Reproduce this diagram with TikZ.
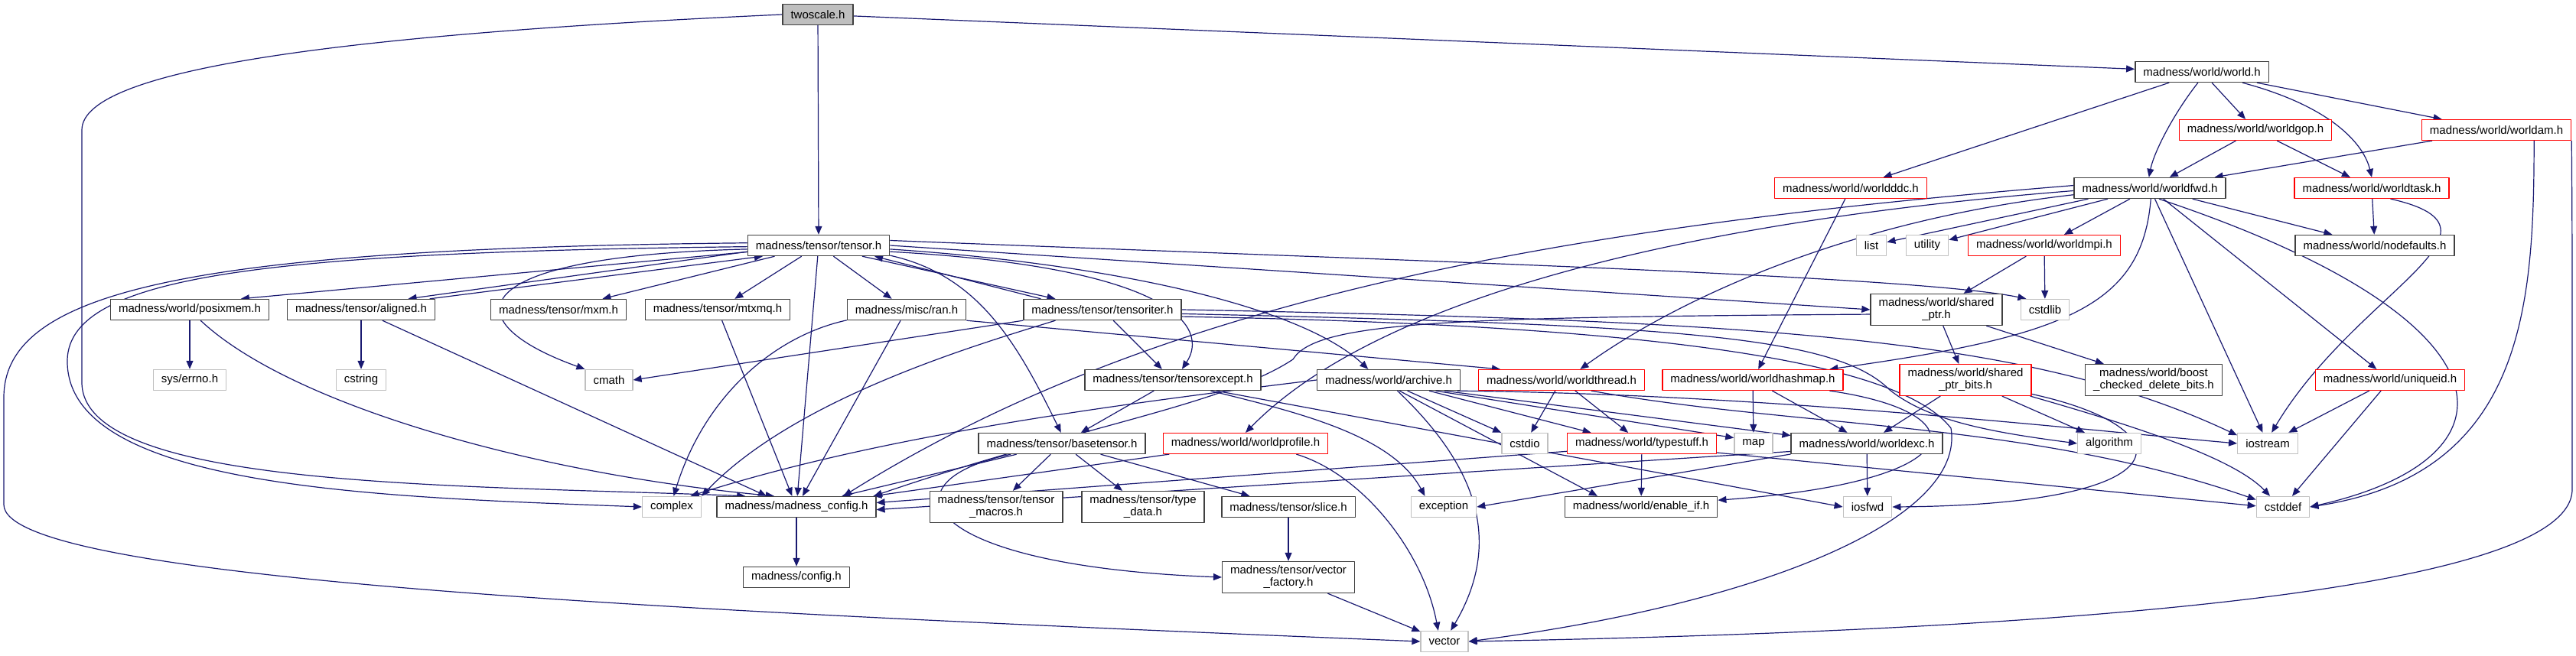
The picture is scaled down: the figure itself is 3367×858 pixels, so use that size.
\documentclass[tikz,border=0pt]{standalone}
\usepackage{fontspec}
\setmainfont{Liberation Sans}
\usetikzlibrary{arrows.meta, backgrounds}
\definecolor{incblue}{HTML}{191970}
\definecolor{hdrframe}{HTML}{404040}
\definecolor{sysframe}{HTML}{C0C0C0}

\begin{document}
\begin{tikzpicture}[
        x=1pt, y=-1pt,
        line cap=round, line join=round,
        hdr/.style={draw=hdrframe, line width=1.4pt, fill=white, inner xsep=10.5pt, inner ysep=5.5pt,
            minimum height=27pt, align=center, font=\fontsize{15}{16}\selectfont},
        redhdr/.style={hdr, draw=red, line width=1.2pt},
        syshdr/.style={hdr, draw=sysframe, line width=1.4pt},
        inc/.style={draw=incblue, line width=1.2pt, -{Triangle[length=11pt, width=9pt]}}
    ]
    \useasboundingbox (0,0) rectangle (3367,858);

    \node[hdr, fill=black!25] (twoscale) at (1069,19) {twoscale.h};
    \node[hdr] (tensor) at (1070,321) {madness/tensor/tensor.h};
    \node[hdr] (world) at (2878,94) {madness/world/world.h};
    \node[redhdr] (worldddc) at (2419,246) {madness/world/worldddc.h};
    \node[redhdr] (worldgop) at (2948,170) {madness/world/worldgop.h};
    \node[redhdr] (worldam) at (3263,170) {madness/world/worldam.h};
    \node[hdr] (worldfwd) at (2810,246) {madness/world/worldfwd.h};
    \node[redhdr] (worldtask) at (3100,246) {madness/world/worldtask.h};
    \node[syshdr] (list) at (2446,321) {list};
    \node[syshdr] (utility) at (2519,321) {utility};
    \node[redhdr] (worldmpi) at (2672,321) {madness/world/worldmpi.h};
    \node[hdr] (nodefaults) at (3104,321) {madness/world/nodefaults.h};
    \node[hdr] (posixmem) at (248,405) {madness/world/posixmem.h};
    \node[hdr] (aligned) at (472,405) {madness/tensor/aligned.h};
    \node[hdr] (mxm) at (730,405) {madness/tensor/mxm.h};
    \node[hdr] (mtxmq) at (938,405) {madness/tensor/mtxmq.h};
    \node[hdr] (ran) at (1185,405) {madness/misc/ran.h};
    \node[hdr] (tensoriter) at (1441,405) {madness/tensor/tensoriter.h};
    \node[hdr] (sharedptr) at (2531,405) {madness/world/shared\\\_ptr.h};
    \node[syshdr] (cstdlib) at (2673,405) {cstdlib};
    \node[syshdr] (errno) at (248,497) {sys/errno.h};
    \node[syshdr] (cstring) at (472,497) {cstring};
    \node[syshdr] (cmath) at (796,497) {cmath};
    \node[hdr] (tensorexcept) at (1533,497) {madness/tensor/tensorexcept.h};
    \node[hdr] (archive) at (1815,497) {madness/world/archive.h};
    \node[redhdr] (worldthread) at (2041,497) {madness/world/worldthread.h};
    \node[redhdr] (worldhashmap) at (2291,497) {madness/world/worldhashmap.h};
    \node[redhdr] (sharedptrbits) at (2569,497) {madness/world/shared\\\_ptr\_bits.h};
    \node[hdr] (boostcdb) at (2815,497) {madness/world/boost\\\_checked\_delete\_bits.h};
    \node[redhdr] (uniqueid) at (3124,497) {madness/world/uniqueid.h};
    \node[hdr] (basetensor) at (1388,580) {madness/tensor/basetensor.h};
    \node[redhdr] (worldprofile) at (1628,580) {madness/world/worldprofile.h};
    \node[syshdr] (cstdio) at (1993,580) {cstdio};
    \node[redhdr] (typestuff) at (2146,580) {madness/world/typestuff.h};
    \node[syshdr] (map) at (2292,580) {map};
    \node[hdr] (worldexc) at (2440,580) {madness/world/worldexc.h};
    \node[syshdr] (algorithm) at (2757,580) {algorithm};
    \node[syshdr] (iostream) at (2964,580) {iostream};
    \node[syshdr] (complex) at (878,663) {complex};
    \node[hdr] (madconfig) at (1041,663) {madness/madness\_config.h};
    \node[hdr] (tensormacros) at (1302,663) {madness/tensor/tensor\\\_macros.h};
    \node[hdr] (typedata) at (1494,663) {madness/tensor/type\\\_data.h};
    \node[hdr] (slice) at (1684,663) {madness/tensor/slice.h};
    \node[syshdr] (exception) at (1887,663) {exception};
    \node[hdr] (enableif) at (2145,663) {madness/world/enable\_if.h};
    \node[syshdr] (iosfwd) at (2441,663) {iosfwd};
    \node[syshdr] (cstddef) at (2984,663) {cstddef};
    \node[hdr] (config) at (1041,755) {madness/config.h};
    \node[hdr] (vectorfactory) at (1684,755) {madness/tensor/vector\\\_factory.h};
    \node[syshdr] (vector) at (1888,839) {vector};

    \begin{scope}[on background layer]
    \draw[inc] (twoscale) -- (tensor);
    \draw[inc] (twoscale) -- (world);
    \draw[inc] (twoscale.west) .. controls (450,45) and (107,90) .. (107,170) -- (107,500)
        .. controls (107,640) and (600,634) .. (madconfig.168);

    \draw[inc] (world) -- (worldddc);
    \draw[inc] (world.250) .. controls (2840,150) and (2815,200) .. (worldfwd.95);
    \draw[inc] (world) -- (worldgop);
    \draw[inc] (world.-15) .. controls (3050,140) and (3090,190) .. (worldtask.north);
    \draw[inc] (world) -- (worldam);
    \draw[inc] (worldgop) -- (worldfwd);
    \draw[inc] (worldgop) -- (worldtask);
    \draw[inc] (worldam) -- (worldfwd);
    \draw[inc] (worldam.-16) .. controls (3312,400) and (3300,620) .. (cstddef.east);
    \draw[inc] (worldam.south east) .. controls (3362,300) .. (3362,640)
        .. controls (3362,800) and (2400,830) .. (vector.east);
    \draw[inc] (worldtask) -- (nodefaults);
    \draw[inc] (worldtask.-30) .. controls (3300,300) and (3080,380) .. (iostream.70);
    \draw[inc] (worldddc) -- (worldhashmap);

    \draw[inc] (worldfwd.190) -- (list);
    \draw[inc] (worldfwd) -- (utility);
    \draw[inc] (worldfwd) -- (worldmpi);
    \draw[inc] (worldfwd) -- (nodefaults);
    \draw[inc] (worldfwd) -- (uniqueid);
    \draw[inc] (worldfwd) -- (iostream);
    \draw[inc] (worldfwd.-85) .. controls (2800,400) and (2700,440) .. (worldhashmap.8);
    \draw[inc] (worldfwd.-50) .. controls (3300,420) and (3300,600) .. (cstddef.east);
    \draw[inc] (worldfwd.185) .. controls (2400,290) and (2180,400) .. (worldthread.30);
    \draw[inc] (worldfwd.182) .. controls (2200,290) and (1800,390) .. (worldprofile.north);
    \draw[inc] (worldfwd.178) .. controls (2000,300) and (1500,400) .. (madconfig.13);
    \draw[inc] (worldmpi) -- (sharedptr);
    \draw[inc] (worldmpi) -- (cstdlib);
    \draw[inc] (uniqueid) -- (iostream);
    \draw[inc] (uniqueid) -- (cstddef);

    \draw[inc] (tensor) -- (posixmem.12);
    \draw[inc] (tensor.185) -- (aligned.13);
    \draw[inc] (aligned.9) -- (tensor.191);
    \draw[inc] (tensor) -- (mxm);
    \draw[inc] (tensor) -- (mtxmq);
    \draw[inc] (tensor) -- (madconfig);
    \draw[inc] (tensor) -- (ran);
    \draw[inc] (tensor.-14) -- (tensoriter.167);
    \draw[inc] (tensoriter.170) -- (tensor.-11);
    \draw[inc] (tensor.-8) .. controls (1280,360) and (1330,450) .. (basetensor.95);
    \draw[inc] (tensor.-5) .. controls (1540,350) and (1580,430) .. (tensorexcept.50);
    \draw[inc] (tensor.-3) .. controls (1450,345) and (1700,400) .. (archive.152);
    \draw[inc] (tensor.4) .. controls (1800,340) and (2500,360) .. (cstdlib.150);
    \draw[inc] (tensor.east) -- (sharedptr.west);
    \draw[inc] (tensor.181) .. controls (350,330) and (92,360) .. (88,470)
        .. controls (84,640) and (500,650) .. (complex.west);
    \draw[inc] (tensor.178) .. controls (250,325) and (5,380) .. (5,520) -- (5,660)
        .. controls (5,760) and (900,800) .. (vector.west);
    \draw[inc] (tensor.183) .. controls (600,335) and (590,420) .. (cmath.north west);

    \draw[inc] (posixmem) -- (errno);
    \draw[inc] (posixmem.-45) .. controls (380,530) and (700,620) .. (madconfig.154);
    \draw[inc] (aligned) -- (cstring);
    \draw[inc] (aligned.-27) -- (madconfig.160);
    \draw[inc] (mtxmq) -- (madconfig);
    \draw[inc] (ran) -- (madconfig);
    \draw[inc] (ran.190) .. controls (1010,440) and (920,520) .. (complex.80);
    \draw[inc] (ran.south east) -- (worldthread.170);

    \draw[inc] (tensoriter) -- (tensorexcept);
    \draw[inc] (tensoriter.south west) -- (cmath.east);
    \draw[inc] (tensoriter.-167) .. controls (1280,450) and (1040,520) .. (complex.north east);
    \draw[inc] (tensoriter.east) .. controls (2300,420) and (2650,440) .. (iostream.165);
    \draw[inc] (tensoriter.-3) .. controls (2200,425) and (2400,440) .. (2470,510)
        .. controls (2520,550) and (2600,565) .. (algorithm.west);
    \draw[inc] (tensoriter.-5) .. controls (2150,425) and (2480,470) .. (2550,560)
        .. controls (2570,680) and (2300,790) .. (vector.east);

    \draw[inc] (tensorexcept) -- (basetensor);
    \draw[inc] (tensorexcept.-16) .. controls (1700,540) and (1820,570) .. (exception.150);
    \draw[inc] (tensorexcept.-14) -- (iosfwd.west);

    \draw[inc] (basetensor) -- (madconfig);
    \draw[inc] (basetensor) -- (tensormacros);
    \draw[inc] (basetensor) -- (typedata);
    \draw[inc] (basetensor) -- (slice);
    \draw[inc] (basetensor.-168) .. controls (1150,630) and (1200,740) .. (vectorfactory.west);
    \draw[inc] (slice) -- (vectorfactory);
    \draw[inc] (vectorfactory) -- (vector);
    \draw[inc] (madconfig) -- (config);

    \draw[inc] (worldprofile) -- (madconfig);
    \draw[inc] (worldprofile.-12) .. controls (1780,620) and (1860,720) .. (vector.120);

    \draw[inc] (archive.-51) .. controls (1920,600) and (1970,700) .. (vector.60);
    \draw[inc] (archive.-45) -- (enableif.166);
    \draw[inc] (archive.-30) -- (cstdio.north west);
    \draw[inc] (archive.-15) -- (typestuff.168);
    \draw[inc] (archive.-13) -- (map.164);
    \draw[inc] (archive.-11) -- (worldexc.174);
    \draw[inc] (archive.-9) .. controls (2300,515) and (2700,560) .. (iostream.west);
    \draw[inc] (archive.west) .. controls (1450,530) and (1150,570) .. (complex.30);

    \draw[inc] (worldthread) -- (cstdio);
    \draw[inc] (worldthread) -- (typestuff);
    \draw[inc] (worldthread.-20) .. controls (2350,560) and (2650,550) .. (cstddef.165);
    \draw[inc] (worldhashmap) -- (map);
    \draw[inc] (worldhashmap) -- (worldexc);
    \draw[inc] (worldhashmap.-8) .. controls (2590,540) and (2580,630) .. (enableif.5);

    \draw[inc] (typestuff) -- (enableif);
    \draw[inc] (typestuff.-7) -- (cstddef.178);
    \draw[inc] (typestuff.186) -- (madconfig.3);
    \draw[inc] (worldexc) -- (iosfwd);
    \draw[inc] (worldexc.-172) -- (exception.east);
    \draw[inc] (worldexc.186) -- (madconfig.-2);

    \draw[inc] (sharedptr) -- (sharedptrbits);
    \draw[inc] (sharedptr) -- (boostcdb);
    \draw[inc] (sharedptr.184) .. controls (1900,415) and (1720,420) .. (1690,470)
        .. controls (1600,530) and (1400,560) .. (madconfig.8);
    \draw[inc] (sharedptrbits) -- (worldexc);
    \draw[inc] (sharedptrbits) -- (algorithm);
    \draw[inc] (sharedptrbits.-14) .. controls (2800,560) and (2920,600) .. (cstddef.140);
    \draw[inc] (sharedptrbits.-12) .. controls (2860,560) and (2860,660) .. (iosfwd.east);
    \end{scope}
\end{tikzpicture}
\end{document}
